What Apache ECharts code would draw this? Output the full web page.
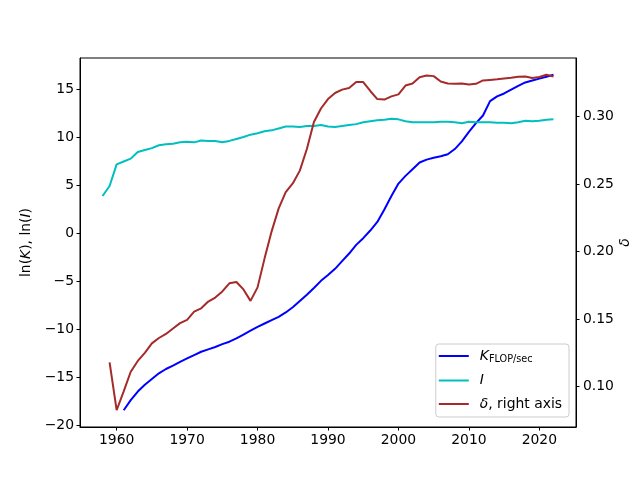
<!DOCTYPE html>
<html><head><meta charset="utf-8">
<script src="https://cdn.jsdelivr.net/npm/echarts@6/dist/echarts.min.js"></script>
<style>html,body{margin:0;padding:0;background:#fff}#c{width:640px;height:480px}</style>
</head><body><div id="c"></div>
<script>
const years = [1958,1959,1960,1961,1962,1963,1964,1965,1966,1967,1968,1969,1970,1971,1972,1973,1974,1975,1976,1977,1978,1979,1980,1981,1982,1983,1984,1985,1986,1987,1988,1989,1990,1991,1992,1993,1994,1995,1996,1997,1998,1999,2000,2001,2002,2003,2004,2005,2006,2007,2008,2009,2010,2011,2012,2013,2014,2015,2016,2017,2018,2019,2020,2021,2022];
const lnK = [null,null,null,-18.45,-17.4,-16.5,-15.8,-15.2,-14.6,-14.15,-13.8,-13.4,-13.05,-12.7,-12.35,-12.1,-11.85,-11.55,-11.3,-10.95,-10.55,-10.15,-9.75,-9.4,-9.05,-8.7,-8.25,-7.7,-7.05,-6.4,-5.7,-4.95,-4.35,-3.7,-2.9,-2.1,-1.2,-0.5,0.3,1.2,2.5,3.9,5.2,6.0,6.7,7.4,7.7,7.9,8.05,8.25,8.8,9.6,10.6,11.5,12.3,13.8,14.3,14.6,15.0,15.4,15.75,15.95,16.15,16.35,16.55];
const lnI = [3.9,4.95,7.2,7.5,7.8,8.5,8.7,8.9,9.2,9.3,9.35,9.5,9.55,9.5,9.7,9.65,9.65,9.5,9.65,9.85,10.05,10.3,10.45,10.65,10.75,10.95,11.15,11.15,11.1,11.2,11.2,11.3,11.15,11.1,11.2,11.3,11.4,11.6,11.7,11.8,11.85,11.95,11.9,11.7,11.6,11.6,11.6,11.6,11.65,11.65,11.6,11.5,11.65,11.6,11.6,11.6,11.55,11.55,11.5,11.6,11.75,11.7,11.75,11.85,11.9];
const delta = [null,0.118,0.0825,0.0965,0.111,0.119,0.125,0.132,0.136,0.139,0.143,0.147,0.1495,0.1555,0.158,0.163,0.166,0.1705,0.1765,0.1775,0.172,0.1635,0.1735,0.195,0.215,0.232,0.244,0.2505,0.26,0.276,0.296,0.306,0.313,0.3175,0.32,0.3212,0.3256,0.3256,0.319,0.313,0.3126,0.315,0.3165,0.323,0.3245,0.3292,0.3305,0.330,0.326,0.3245,0.3243,0.3246,0.3238,0.3243,0.3268,0.3272,0.3276,0.3282,0.3288,0.3295,0.3297,0.3286,0.3293,0.331,0.3297];
const xTicks = [1960,1970,1980,1990,2000,2010,2020];
const leftTicks = [-20,-15,-10,-5,0,5,10,15];
const rightTicks = [0.10,0.15,0.20,0.25,0.30];

function pairs(vals){ const out=[]; years.forEach((y,i)=>{ if(vals[i]!==null) out.push([y, vals[i]]); }); return out; }
function range(arrs){ let lo=Infinity, hi=-Infinity; arrs.forEach(a=>a.forEach(v=>{ if(v!==null){lo=Math.min(lo,v);hi=Math.max(hi,v);} })); const m=(hi-lo)*0.05; return [lo-m, hi+m]; }
const xr = range([years]);
const lr = range([lnK, lnI]);
const rr = range([delta]);
const FF = 'DejaVu Sans';
const FS = 13.9;
const chart = echarts.init(document.getElementById('c'), null, {renderer:'canvas'});
chart.setOption({
  animation:false,
  backgroundColor:'#fff',
  grid:{left:80,right:64,top:58,bottom:53,show:true,borderColor:'#000',borderWidth:1,backgroundColor:'transparent',containLabel:false,outerBoundsMode:'none'},
  xAxis:{type:'value',min:xr[0],max:xr[1],
    axisLine:{show:true,onZero:false,lineStyle:{color:'#000',width:1}},
    axisTick:{show:true,length:3.5,customValues:xTicks,lineStyle:{color:'#000'}},
    axisLabel:{customValues:xTicks,color:'#000',fontFamily:FF,fontSize:FS,margin:6,formatter:v=>String(v)},
    splitLine:{show:false}},
  yAxis:[
    {type:'value',position:'left',min:lr[0],max:lr[1],
     axisLine:{show:true,onZero:false,lineStyle:{color:'#000',width:1}},
     axisTick:{show:true,length:3.5,customValues:leftTicks,lineStyle:{color:'#000'}},
     axisLabel:{customValues:leftTicks,color:'#000',fontFamily:FF,fontSize:FS,margin:6,formatter:v=>v<0?'\u2212'+Math.abs(v):String(v)},
     splitLine:{show:false},
     name:'{n|ln(}{i|K}{n|), ln(}{i|I}{n|)}',nameLocation:'middle',nameGap:46,nameRotate:90,
     nameTextStyle:{color:'#000',fontFamily:FF,fontSize:FS,rich:{n:{fontFamily:FF,fontSize:FS,color:'#000'},i:{fontFamily:FF,fontSize:FS,color:'#000',fontStyle:'italic'}}}},
    {type:'value',position:'right',min:rr[0],max:rr[1],
     axisLine:{show:true,onZero:false,lineStyle:{color:'#000',width:1}},
     axisTick:{show:true,length:3.5,customValues:rightTicks,lineStyle:{color:'#000'}},
     axisLabel:{customValues:rightTicks,color:'#000',fontFamily:FF,fontSize:FS,margin:7,formatter:v=>v.toFixed(2)},
     splitLine:{show:false},
     name:'δ',nameLocation:'middle',nameGap:42,nameRotate:90,nameMoveOverlap:false,
     nameTextStyle:{color:'#000',fontFamily:FF,fontSize:FS,fontStyle:'italic'}}
  ],
  legend:{orient:'vertical',right:71,bottom:63,
    data:['K','I','delta'],icon:'rect',itemWidth:30,itemHeight:2,itemGap:9.5,
    backgroundColor:'#fff',borderColor:'#cccccc',borderWidth:1,borderRadius:3,
    padding:[4,7,6,3],
    formatter:function(n){ if(n==='K') return '{i|K}{s|FLOP/sec}'; if(n==='I') return '{i|I}'; return '{i|δ}{n|, right axis}'; },
    textStyle:{color:'#000',fontFamily:FF,fontSize:FS,padding:[0,0,0,6],
      rich:{i:{fontFamily:FF,fontSize:FS,fontStyle:'italic',color:'#000',lineHeight:18},
            n:{fontFamily:FF,fontSize:FS,color:'#000',lineHeight:18},
            s:{fontFamily:FF,fontSize:9.7,color:'#000',lineHeight:18,padding:[6,0,0,0]}}}},
  series:[
    {name:'K',type:'line',yAxisIndex:0,data:pairs(lnK),showSymbol:false,symbol:'none',lineStyle:{color:'#0000ff',width:2},itemStyle:{color:'#0000ff'}},
    {name:'I',type:'line',yAxisIndex:0,data:pairs(lnI),showSymbol:false,symbol:'none',lineStyle:{color:'#00bfbf',width:2},itemStyle:{color:'#00bfbf'}},
    {name:'delta',type:'line',yAxisIndex:1,data:pairs(delta),showSymbol:false,symbol:'none',lineStyle:{color:'#a52a2a',width:2},itemStyle:{color:'#a52a2a'}}
  ]
});
</script></body></html>
